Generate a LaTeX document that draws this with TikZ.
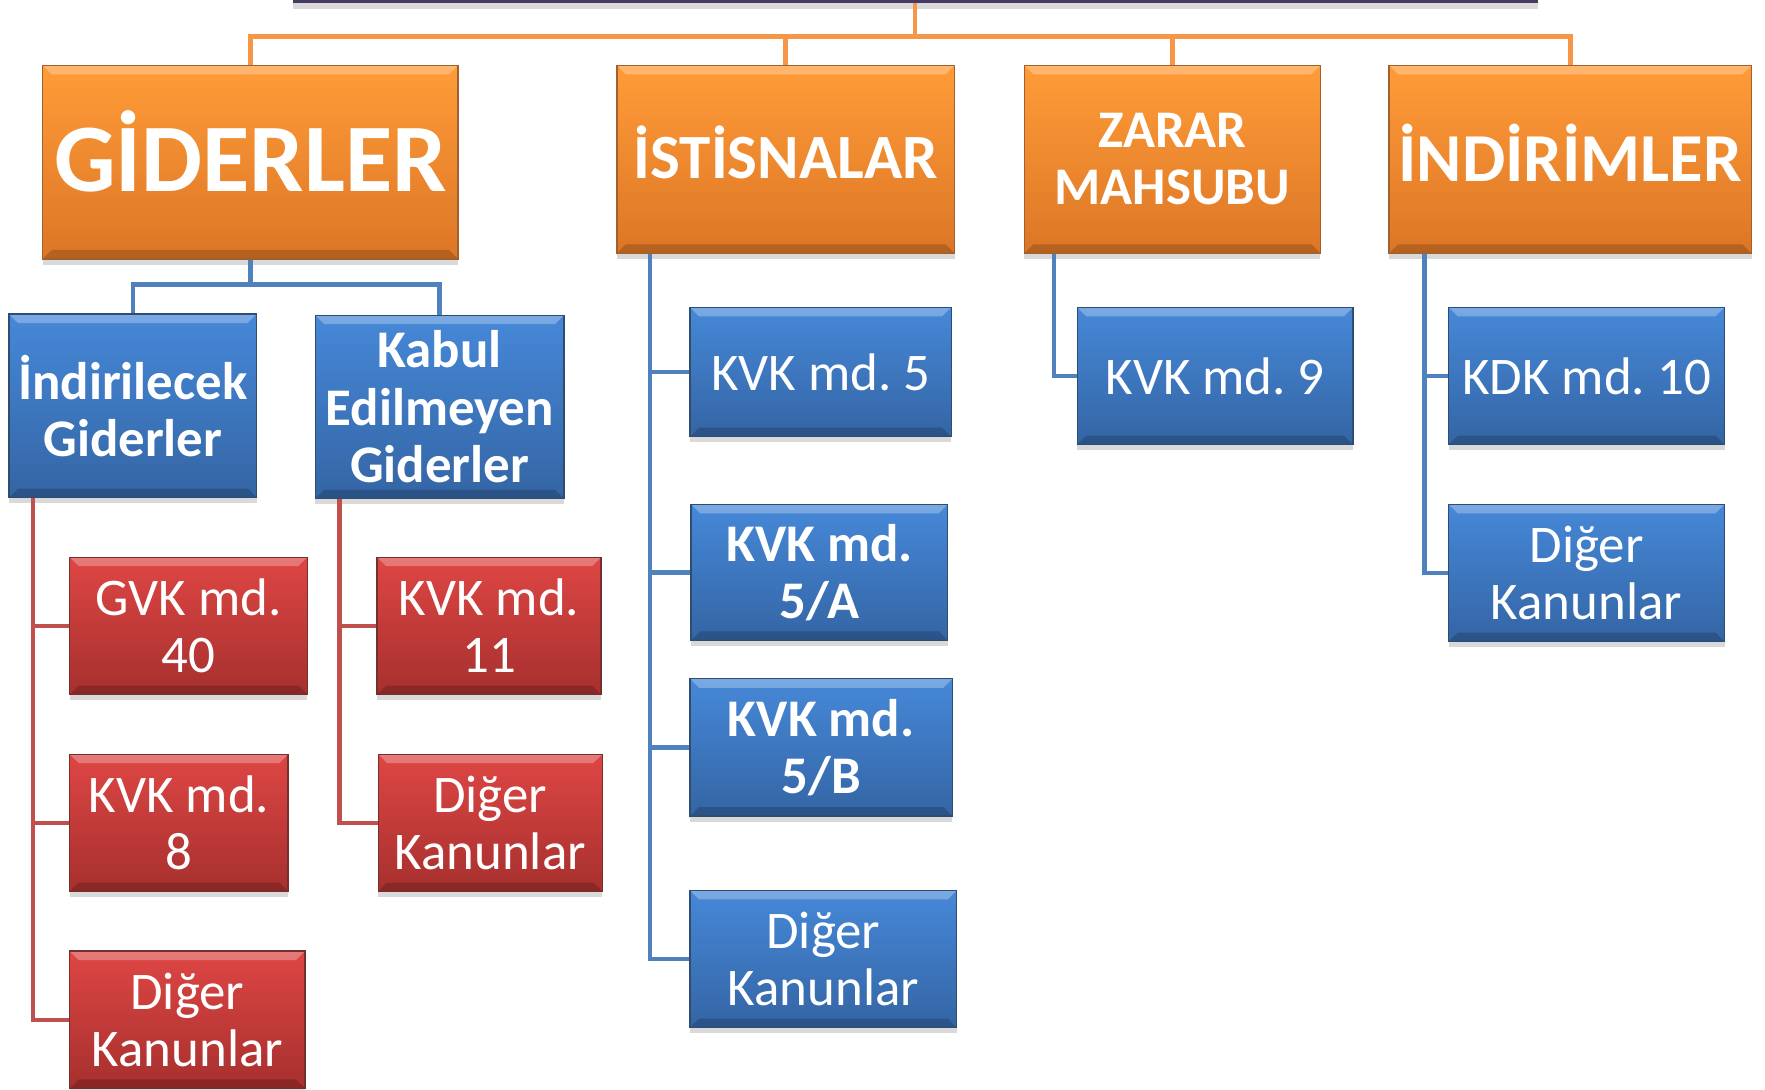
\documentclass[tikz,border=0pt]{standalone}
\usepackage{fontspec}
\setmainfont{Carlito}
\usepackage{tikz}
\usetikzlibrary{positioning, shadows}
\frenchspacing

\definecolor{turuncu}{RGB}{247,150,70}
\definecolor{mavi}{RGB}{79,129,189}
\definecolor{kirmizi}{RGB}{192,80,77}
\definecolor{mor}{RGB}{72,58,100}

\tikzset{
  kutu/.style={rectangle, inner sep=0pt, text=white, align=center, line width=.6pt,
    font=\fontsize{23.5}{25.5}\selectfont,
    drop shadow={shadow xshift=0pt, shadow yshift=-2.5pt, opacity=.3},
    path picture={
      \fill[white, opacity=.28] (path picture bounding box.north west) -- (path picture bounding box.north east)
        -- ([shift={(-4pt,-4pt)}]path picture bounding box.north east) -- ([shift={(4pt,-4pt)}]path picture bounding box.north west) -- cycle;
      \fill[black, opacity=.18] (path picture bounding box.south west) -- (path picture bounding box.south east)
        -- ([shift={(-4pt,4pt)}]path picture bounding box.south east) -- ([shift={(4pt,4pt)}]path picture bounding box.south west) -- cycle;
    }},
  turuncukutu/.style={kutu, top color={rgb,255:red,255;green,156;blue,56}, bottom color={rgb,255:red,220;green,118;blue,38}, draw=turuncu!65!black},
  mavikutu/.style={kutu, top color={rgb,255:red,70;green,136;blue,216}, bottom color={rgb,255:red,52;green,101;blue,164}, draw=mavi!60!black},
  kirmizikutu/.style={kutu, top color={rgb,255:red,222;green,70;blue,68}, bottom color={rgb,255:red,166;green,48;blue,46}, draw=kirmizi!60!black},
  kalin/.style={font=\fontsize{23.5}{25.5}\selectfont\bfseries},
  hat/.style={line width=2pt}
}

\begin{document}
\begin{tikzpicture}[x=0.5pt, y=-0.5pt]
  \useasboundingbox (0,0) rectangle (1568,968);
  \clip (0,0) rectangle (1568,968);
  % ust kutu
  \node[fill=mor, minimum width=553pt, minimum height=30pt, anchor=south,
        drop shadow={shadow xshift=0pt, shadow yshift=-2.5pt, opacity=.3}] (0) at (813,3) {};
  % birinci seviye
  \node[turuncukutu, minimum width=184.5pt, minimum height=86pt, text height=27.7pt, text depth=1.5pt,
        font=\fontsize{43}{46}\selectfont\bfseries] (1) at (222.5,144) {GİDERLER};
  \node[turuncukutu, minimum width=150pt, minimum height=83.5pt, text height=18pt, text depth=1pt,
        font=\fontsize{28}{30}\selectfont\bfseries] (2) at (698,141.5) {İSTİSNALAR};
  \node[turuncukutu, minimum width=131.5pt, minimum height=83.5pt, kalin] (3) at (1041.5,141.5) {ZARAR\\MAHSUBU};
  \node[turuncukutu, minimum width=161pt, minimum height=83.5pt, text height=19.6pt, text depth=0pt,
        font=\fontsize{30.5}{32}\selectfont\bfseries] (4) at (1395,141.5) {İNDİRİMLER};
  % giderler
  \node[mavikutu, minimum width=110pt, minimum height=81.5pt, kalin] (5) at (118,360.5) {İndirilecek\\Giderler};
  \node[mavikutu, minimum width=110.5pt, minimum height=81.5pt, kalin] (6) at (390.5,361.5) {Kabul\\Edilmeyen\\Giderler};
  \node[kirmizikutu, minimum width=105.5pt, minimum height=61pt] (14) at (167.5,556) {GVK md.\\40};
  \node[kirmizikutu, minimum width=97pt, minimum height=61pt] (15) at (159,731) {KVK md.\\8};
  \node[kirmizikutu, minimum width=104.5pt, minimum height=61pt] (16) at (166.5,906) {Diğer\\Kanunlar};
  \node[kirmizikutu, minimum width=99.5pt, minimum height=61pt] (17) at (434.5,556) {KVK md.\\11};
  \node[kirmizikutu, minimum width=99.5pt, minimum height=61pt] (18) at (435.5,731) {Diğer\\Kanunlar};
  % istisnalar
  \node[mavikutu, minimum width=116pt, minimum height=57.5pt] (7) at (729,330.5) {KVK md. 5};
  \node[mavikutu, minimum width=114pt, minimum height=60.5pt, kalin] (8) at (728,508.5) {KVK md.\\5/A};
  \node[mavikutu, minimum width=116.5pt, minimum height=61pt, kalin] (9) at (729.5,664) {KVK md.\\5/B};
  \node[mavikutu, minimum width=118.5pt, minimum height=61pt] (10) at (731.5,852) {Diğer\\Kanunlar};
  % zarar mahsubu, indirimler
  \node[mavikutu, minimum width=122.5pt, minimum height=61pt] (11) at (1079.5,334) {KVK md. 9};
  \node[mavikutu, minimum width=122.5pt, minimum height=61pt] (12) at (1409.5,334) {KDK md. 10};
  \node[mavikutu, minimum width=122.5pt, minimum height=61pt] (13) at (1409.5,509) {Diğer\\Kanunlar};

  % baglantilar
  \draw[hat, turuncu] (0.south) -- ++(0,29.5) coordinate (h);
  \draw[hat, turuncu] (1.north) |- (h) -| (4.north)
                      (2.north) |- (h)
                      (3.north) |- (h);
  \draw[hat, mavi] (1.south) -- ++(0,22) coordinate (m);
  \draw[hat, mavi] (5.north) |- (m) -| (6.north);
  \draw[hat, mavi] ([xshift=15pt]2.south west) |- (7.west)
                   ([xshift=15pt]2.south west) |- (8.west)
                   ([xshift=15pt]2.south west) |- (9.west)
                   ([xshift=15pt]2.south west) |- (10.west);
  \draw[hat, mavi] ([xshift=13.5pt]3.south west) |- (11.west);
  \draw[hat, mavi] ([xshift=16pt]4.south west) |- (12.west)
                   ([xshift=16pt]4.south west) |- (13.west);
  \draw[hat, kirmizi] ([xshift=11pt]5.south west) |- (14.west)
                      ([xshift=11pt]5.south west) |- (15.west)
                      ([xshift=11pt]5.south west) |- (16.west);
  \draw[hat, kirmizi] ([xshift=11pt]6.south west) |- (17.west)
                      ([xshift=11pt]6.south west) |- (18.west);
\end{tikzpicture}
\end{document}
